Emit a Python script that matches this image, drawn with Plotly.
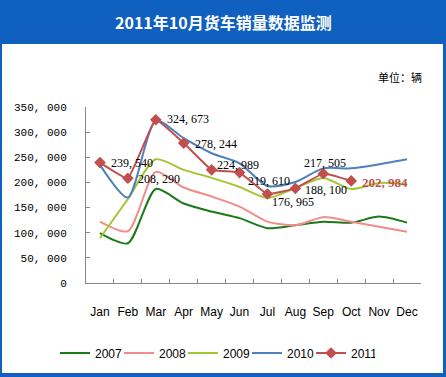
import plotly.graph_objects as go

months = ["Jan", "Feb", "Mar", "Apr", "May", "Jun", "Jul", "Aug", "Sep", "Oct", "Nov", "Dec"]
s2007 = [99000, 79000, 187000, 158000, 142000, 129000, 109000, 115000, 122000, 120000, 132000, 120000]
s2008 = [122000, 103000, 221000, 190000, 172000, 152000, 122000, 115000, 131000, 122000, 112000, 102000]
s2009 = [89000, 167000, 246000, 225000, 209000, 191000, 169000, 189000, 209000, 187000, 199000, 197000]
s2010 = [235000, 170000, 323000, 288000, 258000, 238000, 193000, 201000, 228000, 228000, 236000, 246000]
s2011 = [239540, 208290, 324673, 278244, 224989, 219610, 176965, 188100, 217505, 202984]
label2011 = ["239, 540", "208, 290", "324, 673", "278, 244", "224, 989", "219, 610",
             "176, 965", "188, 100", "217, 505", "202, 984"]
ytickvals = [0, 50000, 100000, 150000, 200000, 250000, 300000, 350000]
yticktext = ["0", "50, 000", "100, 000", "150, 000", "200, 000", "250, 000", "300, 000", "350, 000"]

W, H = 446, 377
L, R, T, B = 86, 25, 107, 94
PW, PH = W - L - R, H - T - B

def px(x):
    return (x - L) / PW

def py(y):
    return 1 + (T - y) / PH

fig = go.Figure()
series = [("2007", s2007, "#1a7a1a"), ("2008", s2008, "#f28c8c"),
          ("2009", s2009, "#a3c630"), ("2010", s2010, "#4f7fbd")]
for name, vals, col in series:
    fig.add_trace(go.Scatter(x=months, y=vals, name=name, mode="lines",
                             line=dict(color=col, width=2, shape="spline", smoothing=0.7)))
fig.add_trace(go.Scatter(x=months[:len(s2011)], y=s2011, name="2011", mode="lines+markers",
                         line=dict(color="#c0504d", width=2, shape="spline", smoothing=0.3),
                         marker=dict(symbol="diamond", size=9, color="#c0504d")))

# data label offsets (xshift, yshift)
offs = [(9, 0), (8, -1), (9, 1), (9, -1), (3, 5), (6, -8), (3, -8), (8, -2), (-21, 11), (9, -2)]
ann = []
for i, (v, t) in enumerate(zip(s2011, label2011)):
    last = i == len(s2011) - 1
    ann.append(dict(x=months[i], y=v, text=("<b>%s</b>" % t) if last else t, showarrow=False,
                    xanchor="left", yanchor="middle", xshift=offs[i][0], yshift=offs[i][1],
                    font=dict(family="Liberation Serif", size=13 if last else 12,
                              color="#c0504d" if last else "#000000")))
ann.append(dict(x=px(223), y=py(22), xref="paper", yref="paper", showarrow=False,
                text="<b>2011年10月货车销量数据监测</b>", xanchor="center", yanchor="middle",
                font=dict(family="Noto Sans CJK SC", size=16, color="white")))
ann.append(dict(x=px(400), y=py(77), xref="paper", yref="paper", showarrow=False,
                text="单位：辆", xanchor="center", yanchor="middle",
                font=dict(family="Noto Sans CJK SC", size=11, color="black")))

shapes = [dict(type="rect", xref="paper", yref="paper", layer="below",
               x0=px(2), x1=px(443), y0=py(373), y1=py(44),
               fillcolor="white", line=dict(width=0))]

fig.update_layout(
    width=W, height=H, margin=dict(l=L, r=R, t=T, b=B, autoexpand=False),
    paper_bgcolor="#1060c0", plot_bgcolor="rgba(0,0,0,0)",
    annotations=ann, shapes=shapes,
    legend=dict(orientation="h", x=px(55), xanchor="left", y=py(353), yanchor="middle",
                font=dict(family="Liberation Sans", size=12, color="black"),
                bgcolor="rgba(0,0,0,0)", itemwidth=30, entrywidth=19, entrywidthmode="pixels",
                tracegroupgap=0),
    font=dict(family="Liberation Sans", size=12, color="black"),
)
fig.update_xaxes(type="category", range=[-0.5, 11.5], showgrid=False, showline=True,
                 linecolor="#868686", linewidth=1,
                 ticks="inside", tickson="boundaries", ticklen=4, tickcolor="#868686",
                 tickangle=0, tickfont=dict(family="Liberation Sans", size=12),
                 ticklabelstandoff=18)
fig.update_yaxes(range=[0, 350000], tickvals=ytickvals, ticktext=yticktext, showgrid=False,
                 zeroline=False, showline=True, linecolor="#868686", linewidth=1,
                 ticks="inside", ticklen=4, tickcolor="#868686",
                 tickfont=dict(family="Liberation Mono", size=11), ticklabelstandoff=16)
fig.write_html("out.html", config={"displayModeBar": False},
               post_script="document.body.style.margin='0';document.body.style.padding='0';")
